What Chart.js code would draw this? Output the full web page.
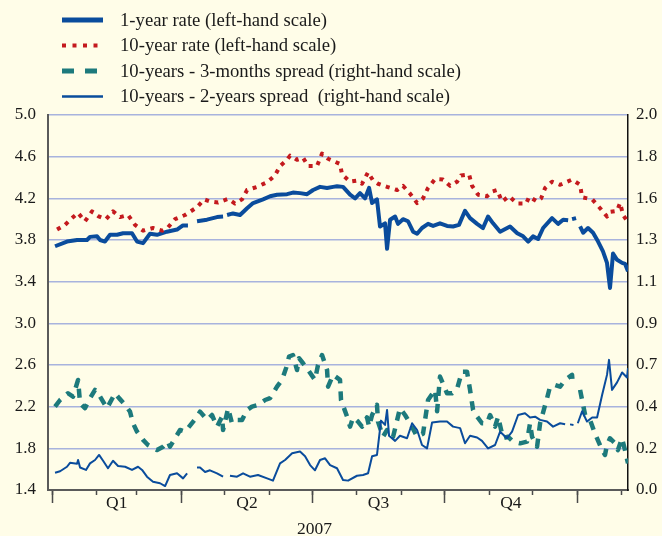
<!DOCTYPE html>
<html>
<head>
<meta charset="utf-8">
<script src="https://cdn.jsdelivr.net/npm/chart.js@4/dist/chart.umd.min.js"></script>
<style>
  html, body { margin: 0; padding: 0; background: #fffde8; }
  canvas { display: block; }
</style>
</head>
<body>
<canvas id="chart" width="662" height="536"></canvas>
<script>
// Day offsets count from 1 January 2007 (day 0); values are percentages.
const oneYearDays = [2.1,10.4,17.4,24.3,26.4,31.3,33.4,36.8,40.3,45.2,49.4,55.6,59.1,63.3,68.1,73,79.9,86.9,91,94.5,97.5,
  100.8,107.7,114.7,118.9,120.3,121.7,125.8,130.7,135.6,139.8,146.7,151.6,156.4,163.4,167.5,172.4,177.3,181.5,186.3,191.2,195.4,
  198.1,202.3,207.2,210.7,214.1,217.6,220.4,222.5,225.9,228,231.5,232.9,235,238.5,240.5,244,247.5,251,253.8,257.2,261.4,264.9,
  269.7,274.6,278.8,282.9,287.1,290.6,295.5,299.6,303.1,306.6,311.5,318.4,323.4,327.5,331,334.4,337.9,341.4,347.6,351.8,355.3,
  358.8,360.2,361.5,364.3,365.7,367.1,369.2,372.6,376.1,379.6,383,385.8,387.9,390,392.8,396.3,398.4,400.4];
const oneYearRate = [3.74,3.785,3.80,3.80,3.83,3.835,3.80,3.785,3.85,3.85,3.865,3.865,3.785,3.77,3.86,3.85,3.88,3.90,3.94,3.94,null,
  3.98,3.995,4.02,4.025,null,4.04,4.055,4.04,4.105,4.155,4.19,4.22,4.235,4.24,4.255,4.25,4.24,4.28,4.31,4.30,4.31,
  4.315,4.31,4.235,4.20,4.25,4.20,4.30,4.155,4.19,3.93,3.96,3.715,3.995,4.025,3.955,4.00,3.98,3.88,3.86,3.915,3.955,3.935,
  3.96,3.935,3.93,3.945,4.08,4.01,3.955,3.915,4.025,3.96,3.88,3.93,3.865,3.835,3.785,3.835,3.81,3.915,4.01,3.955,3.995,
  3.99,null,4.00,4.01,null,3.93,3.87,3.915,3.87,3.785,3.69,3.58,3.34,3.67,3.61,3.58,3.57,3.50];

const tenYearDays = [3.5,9,13.9,18.1,22.9,27.8,32,37.5,42.4,47.3,52.8,57.7,63.3,70.2,76.5,80.6,85.5,92.5,100.8,105.7,109.8,115.4,
  122.4,127.2,132.1,135.6,142.5,149.5,155,158.5,163.4,165.5,170.3,174.5,178,184.2,187.7,191.9,200.2,201.6,207.2,212,215.5,219.7,
  223.2,226.6,232.9,239.9,244,248.9,253.8,257.9,261.4,266.3,271.8,276.7,281.6,284.3,289.9,292,296.2,302.4,305.9,309.4,312.8,
  317.7,323.3,329.6,331.7,337.2,340,342.8,347.6,353.2,361.5,367.1,368.5,375.5,381,385.8,387.9,392.8,394.9,397,400.4];
const tenYearRate = [3.90,3.945,4.01,4.06,3.98,4.075,4.03,4.00,4.075,4.02,4.04,3.945,3.89,3.915,3.89,3.92,4.00,4.04,4.115,4.19,4.17,4.16,
  4.195,4.15,4.19,4.28,4.31,4.355,4.42,4.51,4.57,4.61,4.57,4.59,4.51,4.51,4.63,4.58,4.53,4.43,4.36,4.37,4.34,4.45,
  4.37,4.34,4.31,4.28,4.32,4.245,4.155,4.20,4.30,4.385,4.38,4.32,4.36,4.42,4.43,4.32,4.235,4.22,4.265,4.28,4.17,
  4.22,4.15,4.15,4.215,4.17,4.20,4.30,4.36,4.33,4.38,4.33,4.21,4.19,4.105,4.025,4.07,4.08,4.155,4.04,3.97];

const spread3mDays = [2.1,5.6,11.1,14.6,18.1,19.5,22.9,25,29.9,33.4,38.2,43.8,46.6,50.8,54.2,56.3,59.1,63.3,66.7,73,77.2,80.6,82,
  89,92.5,100.8,102.9,107.8,111.2,114.7,118.2,118.9,122.4,125.1,128.6,132.1,135.6,139,143.2,148.1,151.6,156.4,159.9,162.7,164.8,
  167.5,170.3,171.7,174.5,178,182.8,184.9,187.7,191.2,191.9,195.4,200.2,200.9,205.1,207.2,209.3,212.7,215.5,219,220.4,222.5,
  225.9,226.6,230.1,232.9,235,237.1,241.9,245.4,248.9,253.8,257.9,261.4,266.3,267.7,269.7,274.6,278.1,281.6,285,288.5,290.6,
  292.7,295.5,298.9,302.4,304.5,308,310.1,313.5,317,320.5,325.4,330.2,332.3,333.7,337.2,339.3,344.1,346.2,349.7,353.2,356.7,
  361.5,362.2,364.6,367.1,368.5,370.6,374,377.5,382.4,384.4,385.8,387.9,391.4,393.4,396.2,398.3,400.4];
const spread3m = [0.445,0.48,0.516,0.498,0.587,0.463,0.436,0.471,0.534,0.498,0.436,0.516,0.49,0.454,0.418,0.356,0.311,0.267,0.24,0.213,0.231,0.258,0.231,
  0.32,0.311,0.391,0.418,0.374,0.40,0.338,0.391,0.32,0.436,0.356,0.374,0.374,0.427,0.445,0.454,0.48,0.49,0.551,0.587,0.65,0.712,
  0.72,0.64,0.703,0.676,0.64,0.587,0.667,0.72,0.64,0.551,0.614,0.587,0.48,0.391,0.338,0.387,0.365,0.338,0.387,0.338,0.40,
  0.454,0.365,0.284,0.32,0.32,0.284,0.436,0.40,0.356,0.284,0.30,0.48,0.534,0.42,0.605,0.516,0.516,0.54,0.631,0.631,0.534,
  0.427,0.391,0.356,0.356,0.40,0.338,0.391,0.276,0.284,0.258,0.249,0.258,0.356,0.284,0.231,0.356,0.489,0.551,0.56,0.551,0.587,
  0.614,0.551,null,0.534,0.48,0.40,0.374,0.30,0.213,0.187,0.24,0.276,0.249,0.213,0.276,0.213,0.142];

const spread2yDays = [2.1,5.6,10.4,12.5,17.4,18.1,19.5,23.6,26.4,29.9,32.7,35.5,38.9,42.4,45.9,50.8,55.6,59.8,62.6,66,70.2,75.1,78.6,
  82,86.9,91.1,93.9,96,100.8,102.9,106.4,109.8,114.7,118.9,120.5,123.7,128.6,132.8,137.6,143.2,149.5,153.6,158.5,162,166.9,172.4,
  175.9,179.4,182.8,186.3,189.8,193.3,198.1,202.3,205.8,212,216.2,219.7,222.5,225.9,228.7,231.5,232.9,234.3,238.5,241.9,246.8,
  250.3,253.8,257.2,260.7,264.2,269.7,274.6,278.8,283.7,287.1,290.6,295.5,298.9,303.1,308,311.5,316.3,319.8,324,328.8,332.3,
  335.8,339.3,344.1,348.3,353.2,356.7,358.5,360.1,362.5,364,365.5,368.5,371.9,375.5,378.9,382.4,385.8,387.2,389.3,392.8,396.3,
  399.7,400.4];
const spread2y = [0.092,0.10,0.124,0.145,0.14,0.16,0.12,0.107,0.142,0.16,0.187,0.156,0.116,0.156,0.128,0.124,0.107,0.124,0.107,0.071,0.044,0.036,0.021,
  0.08,0.089,0.062,0.089,null,0.12,0.12,0.096,0.105,0.089,0.071,null,0.076,0.071,0.089,0.071,0.08,0.062,0.05,0.142,0.16,0.196,0.205,
  0.18,0.133,0.105,0.16,0.169,0.133,0.116,0.053,0.05,0.076,0.08,0.089,0.18,0.187,0.37,0.347,0.427,0.289,0.262,0.289,0.276,
  0.356,0.32,0.24,0.222,0.36,0.365,0.365,0.338,0.33,0.249,0.289,0.28,0.262,0.222,0.24,0.311,0.276,0.311,0.40,0.409,0.387,
  0.391,0.374,0.365,0.338,0.356,0.351,null,0.35,0.347,null,0.356,0.42,0.365,0.387,0.387,0.507,0.614,0.694,0.534,0.574,0.627,
  0.60,0.65];

// Axis ticks and labels
const monthStarts = [0,31,59,90,120,151,181,212,243,273,304,334,365,396];
const quarterStarts = [0,90,181,273,365];
const quarterLabels = ['Q1','Q2','Q3','Q4'];
const yearLabel = '2007';
const leftTicks = [1.4,1.8,2.2,2.6,3.0,3.4,3.8,4.2,4.6,5.0];
const rightTicks = [0,1,2,3,4,5,6,7,8,9].map(k => k * 2 / 9);

const seriesLabels = [
  '1-year rate (left-hand scale)',
  '10-year rate (left-hand scale)',
  '10-years - 3-months spread (right-hand scale)',
  '10-years - 2-years spread  (right-hand scale)'
];

const BLUE = '#0a4c9c';
const RED = '#c41a1e';
const TEAL = '#1d7a7c';
const GRID = '#a8b3dd';
const SERIF = '"Liberation Serif", "Times New Roman", serif';

const quarterMids = quarterLabels.map((_, i) => (quarterStarts[i] + quarterStarts[i + 1]) / 2);
const pairs = (days, vals) => days.map((d, i) => ({ x: d, y: vals[i] }));

const legendSamples = [
  { width: 5, dash: [] },
  { width: 4, dash: [4, 6.5] },
  { width: 5, dash: [12, 11], length: 36 },
  { width: 2.5, dash: [] }
];

// Four-row legend above the plot
const stackedLegend = {
  id: 'stackedLegend',
  afterDraw(chart) {
    const ctx = chart.ctx;
    const rows = [20, 45.5, 71, 96.5];
    ctx.save();
    chart.data.datasets.forEach((ds, i) => {
      const s = legendSamples[i];
      const y = rows[i];
      ctx.beginPath();
      ctx.strokeStyle = ds.borderColor;
      ctx.lineWidth = s.width;
      ctx.setLineDash(s.dash);
      ctx.lineCap = 'butt';
      ctx.moveTo(62, y);
      ctx.lineTo(62 + (s.length || 41), y);
      ctx.stroke();
      ctx.setLineDash([]);
      ctx.fillStyle = '#1a1a1a';
      ctx.font = '18.7px ' + SERIF;
      ctx.textBaseline = 'middle';
      ctx.textAlign = 'left';
      ctx.fillText(ds.label, 120, y + 1);
    });
    ctx.restore();
  }
};

new Chart(document.getElementById('chart'), {
  type: 'line',
  data: {
    datasets: [
      { label: seriesLabels[0], data: pairs(oneYearDays, oneYearRate), yAxisID: 'y',
        borderColor: BLUE, borderWidth: 4, order: 2 },
      { label: seriesLabels[1], data: pairs(tenYearDays, tenYearRate), yAxisID: 'y',
        borderColor: RED, borderWidth: 4, borderDash: [4, 5.5], order: 1 },
      { label: seriesLabels[2], data: pairs(spread3mDays, spread3m), yAxisID: 'y2',
        borderColor: TEAL, borderWidth: 4.5, borderDash: [9, 8], order: 3 },
      { label: seriesLabels[3], data: pairs(spread2yDays, spread2y), yAxisID: 'y2',
        borderColor: BLUE, borderWidth: 2, order: 0 }
    ]
  },
  options: {
    responsive: false,
    animation: false,
    spanGaps: false,
    layout: { padding: { top: 115, left: 0, right: 0, bottom: 0 } },
    elements: {
      point: { radius: 0, hoverRadius: 0 },
      line: { tension: 0, borderJoinStyle: 'round', fill: false }
    },
    plugins: { legend: { display: false }, tooltip: { enabled: false } },
    scales: {
      x: {
        type: 'linear', position: 'bottom', min: -2.8, max: 400.4, weight: 0,
        afterBuildTicks: s => { s.ticks = monthStarts.concat(quarterMids).sort((a, b) => a - b).map(v => ({ value: v })); },
        afterFit: s => { s.height = 26; },
        grid: {
          drawOnChartArea: false, drawTicks: true, tickLength: 5, tickWidth: 1.5,
          tickColor: c => (quarterMids.includes(c.tick && c.tick.value) ? 'rgba(0,0,0,0)' : '#4a4a4a')
        },
        border: { display: true, color: '#5a5a5a', width: 2 },
        ticks: {
          autoSkip: false, maxRotation: 0, padding: -2.5, color: '#1a1a1a',
          font: { family: SERIF, size: 17.5 },
          callback: v => { const i = quarterMids.indexOf(v); return i >= 0 ? quarterLabels[i] : ''; }
        }
      },
      xq: {
        type: 'linear', position: 'bottom', min: -2.8, max: 400.4, weight: -1,
        afterBuildTicks: s => { s.ticks = quarterStarts.map(v => ({ value: v })); },
        afterFit: s => { s.height = 0; },
        grid: { drawOnChartArea: false, drawTicks: true, tickLength: 13, tickWidth: 1.5, tickColor: '#4a4a4a' },
        border: { display: false },
        ticks: { display: false }
      },
      xy: {
        type: 'linear', position: 'bottom', min: -2.8, max: 400.4, weight: 1,
        afterBuildTicks: s => { s.ticks = [{ value: 182.5 }]; },
        afterFit: s => { s.height = 20; },
        grid: { drawOnChartArea: false, drawTicks: false },
        border: { display: false },
        ticks: {
          autoSkip: false, maxRotation: 0, padding: 2.5, color: '#1a1a1a',
          font: { family: SERIF, size: 17.5 },
          callback: () => yearLabel
        }
      },
      y: {
        type: 'linear', position: 'left', min: 1.4, max: 5.0,
        afterBuildTicks: s => { s.ticks = leftTicks.map(v => ({ value: v })); },
        afterFit: s => { s.width = 48; },
        grid: { color: GRID, lineWidth: 1.5, drawTicks: false },
        border: { display: true, color: '#5a5a5a', width: 2 },
        ticks: {
          padding: 12, color: '#1a1a1a', font: { family: SERIF, size: 17 },
          callback: v => v.toFixed(1)
        }
      },
      y2: {
        type: 'linear', position: 'right', min: 0, max: 2.0,
        afterBuildTicks: s => { s.ticks = rightTicks.map(v => ({ value: v })); },
        afterFit: s => { s.width = 34; },
        grid: { drawOnChartArea: false, drawTicks: false },
        border: { display: true, color: '#111', width: 1.5 },
        ticks: {
          padding: 8, color: '#1a1a1a', font: { family: SERIF, size: 17 },
          callback: v => v.toFixed(1)
        }
      }
    }
  },
  plugins: [stackedLegend]
});
</script>
</body>
</html>
